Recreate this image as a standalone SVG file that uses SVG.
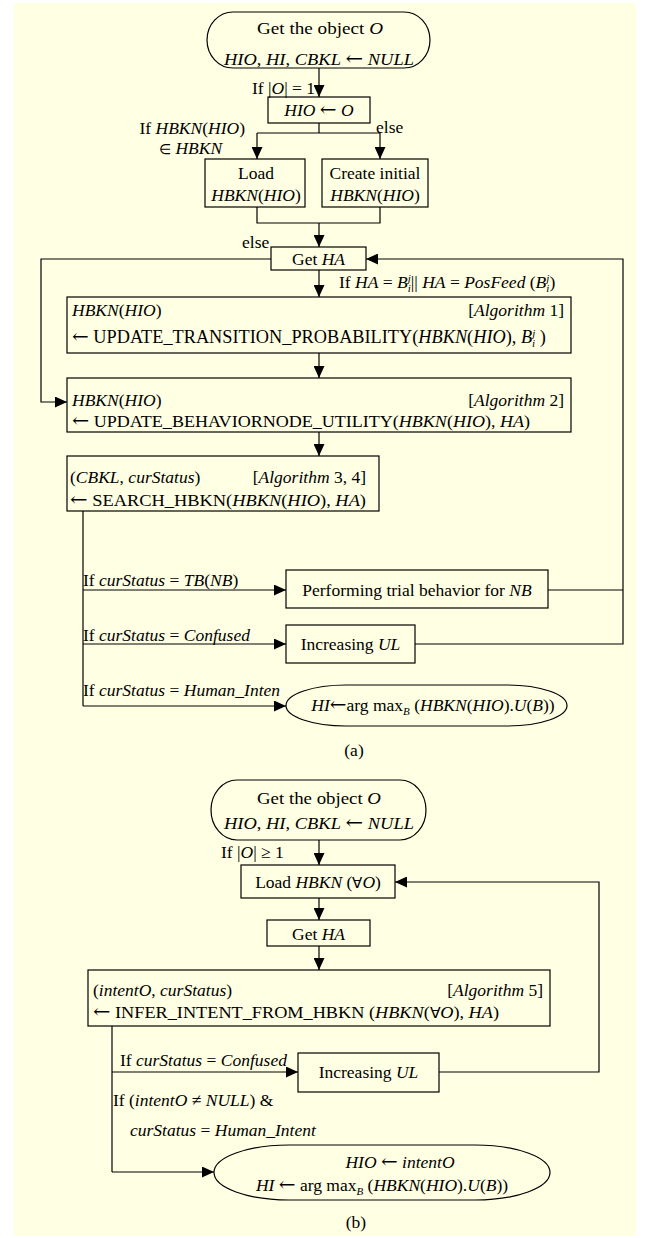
<svg xmlns="http://www.w3.org/2000/svg" width="649" height="1238" viewBox="0 0 649 1238">
<style>
.t{font-family:"Liberation Serif","Times New Roman",serif;font-size:17.5px;fill:#000}
.i{font-style:italic}
.s{font-size:11px}
.a{font-family:"DejaVu Serif","Liberation Serif",serif;font-size:20px;font-style:normal}
.el{font-size:14px}
.fa{font-size:15px}
.m{text-anchor:middle}
.e{text-anchor:end}
.bx{fill:none;stroke:#000;stroke-width:1.2}
.ln{fill:none;stroke:#000;stroke-width:1.2}
.ar{fill:none;stroke:#000;stroke-width:1.2;marker-end:url(#ah)}
</style>
<defs>
<marker id="ah" markerUnits="userSpaceOnUse" markerWidth="12" markerHeight="11" refX="12" refY="5.5" orient="auto"><path d="M0,0 L12,5.5 L0,11 z" fill="#000"/></marker>
</defs>
<rect x="0" y="0" width="649" height="1238" fill="#ffffff"/>
<rect x="14" y="3" width="622" height="1233" fill="#ffffe4"/>

<g id="connectors">
<path class="ar" d="M319,68 V97"/>
<path class="ln" d="M319,123 V133 M257,133 H380"/>
<path class="ar" d="M257,133 V159"/>
<path class="ar" d="M380,133 V159"/>
<path class="ln" d="M257,207 V223 H380 V207"/>
<path class="ar" d="M319,223 V247"/>
<path class="ar" d="M271,259 H41 V402 H67"/>
<path class="ln" d="M548,590 H623"/>
<path class="ar" d="M415,644 H623 V259 H366"/>
<path class="ar" d="M319,270 V297"/>
<path class="ar" d="M319,353 V378"/>
<path class="ar" d="M319,432 V456"/>
<path class="ln" d="M83,511 V706"/>
<path class="ar" d="M83,590 H286"/>
<path class="ar" d="M83,644 H286"/>
<path class="ar" d="M83,706 H286"/>

<path class="ar" d="M319,840 V865"/>
<path class="ar" d="M319,898 V920"/>
<path class="ar" d="M319,946 V970"/>
<path class="ln" d="M112,1026 V1172"/>
<path class="ar" d="M112,1072 H298"/>
<path class="ar" d="M112,1172 H214"/>
<path class="ar" d="M439,1072 H599 V882 H395"/>
</g>

<g id="labels">
<text class="t e" x="315" y="94">If |<tspan class="i">O</tspan>| = 1</text>
<text class="t e" x="245" y="134">If <tspan class="i">HBKN</tspan>(<tspan class="i">HIO</tspan>)</text>
<text class="t" x="159" y="154"><tspan class="el">∈</tspan> <tspan class="i">HBKN</tspan></text>
<text class="t" x="376" y="133">else</text>
<text class="t" x="242" y="248">else</text>
<text class="t" x="339" y="288">If <tspan class="i">HA</tspan> = <tspan class="i">B</tspan><tspan class="s i" dy="4">i</tspan><tspan class="s i" dx="-3" dy="-10">j</tspan><tspan dy="6">|| </tspan><tspan class="i">HA</tspan> = <tspan class="i">PosFeed</tspan> (<tspan class="i">B</tspan><tspan class="s i" dy="4">i</tspan><tspan class="s i" dx="-3" dy="-10">j</tspan><tspan dy="6">)</tspan></text>
<text class="t" x="83" y="586">If <tspan class="i">curStatus</tspan> = <tspan class="i">TB</tspan>(<tspan class="i">NB</tspan>)</text>
<text class="t" x="83" y="641">If <tspan class="i">curStatus</tspan> = <tspan class="i">Confused</tspan></text>
<text class="t" x="83" y="696">If <tspan class="i">curStatus</tspan> = <tspan class="i">Human_Inten</tspan></text>
<text class="t m" x="354" y="756">(a)</text>
<text class="t" x="221" y="858">If |<tspan class="i">O</tspan>| ≥ 1</text>
<text class="t" x="120" y="1066">If <tspan class="i">curStatus</tspan> = <tspan class="i">Confused</tspan></text>
<text class="t" x="113" y="1106">If (<tspan class="i">intentO</tspan> ≠ <tspan class="i">NULL</tspan>) &amp;</text>
<text class="t" x="130" y="1136"><tspan class="i">curStatus</tspan> = <tspan class="i">Human_Intent</tspan></text>
<text class="t m" x="356" y="1228">(b)</text>
</g>

<g id="start_a">
<rect class="bx" x="207" y="12" width="223" height="56" rx="26" ry="28"/>
<text class="t m" x="320" y="34" textLength="126" lengthAdjust="spacingAndGlyphs">Get the object <tspan class="i">O</tspan></text>
<text class="t m" x="319" y="65" textLength="190" lengthAdjust="spacingAndGlyphs"><tspan class="i">HIO</tspan>, <tspan class="i">HI</tspan>, <tspan class="i">CBKL</tspan> <tspan class="a">←</tspan> <tspan class="i">NULL</tspan></text>
</g>
<g id="hio_a">
<rect class="bx" x="268" y="97" width="102" height="26"/>
<text class="t m" x="319" y="116"><tspan class="i">HIO</tspan> <tspan class="a">←</tspan> <tspan class="i">O</tspan></text>
</g>
<g id="load_a">
<rect class="bx" x="205" y="159" width="100" height="48"/>
<text class="t m" x="256" y="179">Load</text>
<text class="t m" x="256" y="201"><tspan class="i">HBKN</tspan>(<tspan class="i">HIO</tspan>)</text>
</g>
<g id="create_a">
<rect class="bx" x="322" y="159" width="106" height="48"/>
<text class="t m" x="375" y="179">Create initial</text>
<text class="t m" x="375" y="201"><tspan class="i">HBKN</tspan>(<tspan class="i">HIO</tspan>)</text>
</g>
<g id="getha_a">
<rect class="bx" x="271" y="247" width="95" height="23"/>
<text class="t m" x="318.5" y="265">Get <tspan class="i">HA</tspan></text>
</g>
<g id="alg1">
<rect class="bx" x="67" y="297" width="504" height="56"/>
<text class="t" x="72" y="316"><tspan class="i">HBKN</tspan>(<tspan class="i">HIO</tspan>)</text>
<text class="t e" x="564" y="316">[<tspan class="i">Algorithm</tspan> 1]</text>
<text class="t" x="72" y="343" style="font-size:18.3px"><tspan class="a">←</tspan> UPDATE_TRANSITION_PROBABILITY(<tspan class="i">HBKN</tspan>(<tspan class="i">HIO</tspan>),  <tspan class="i">B</tspan><tspan class="s i" dy="4">i</tspan><tspan class="s i" dx="-3" dy="-10">j</tspan><tspan dy="6"> )</tspan></text>
</g>
<g id="alg2">
<rect class="bx" x="67" y="378" width="504" height="54"/>
<text class="t" x="72" y="406"><tspan class="i">HBKN</tspan>(<tspan class="i">HIO</tspan>)</text>
<text class="t e" x="564" y="406">[<tspan class="i">Algorithm</tspan> 2]</text>
<text class="t" x="72" y="427" textLength="458" lengthAdjust="spacingAndGlyphs"><tspan class="a">←</tspan> UPDATE_BEHAVIORNODE_UTILITY(<tspan class="i">HBKN</tspan>(<tspan class="i">HIO</tspan>), <tspan class="i">HA</tspan>)</text>
</g>
<g id="search">
<rect class="bx" x="67" y="456" width="312" height="55"/>
<text class="t" x="70" y="483">(<tspan class="i">CBKL</tspan>, <tspan class="i">curStatus</tspan>)</text>
<text class="t e" x="366" y="483">[<tspan class="i">Algorithm</tspan> 3, 4]</text>
<text class="t" x="70" y="506" textLength="296" lengthAdjust="spacingAndGlyphs"><tspan class="a">←</tspan> SEARCH_HBKN(<tspan class="i">HBKN</tspan>(<tspan class="i">HIO</tspan>), <tspan class="i">HA</tspan>)</text>
</g>
<g id="perform">
<rect class="bx" x="286" y="570" width="262" height="38"/>
<text class="t m" x="417" y="596">Performing trial behavior for <tspan class="i">NB</tspan></text>
</g>
<g id="incul_a">
<rect class="bx" x="286" y="625" width="129" height="38"/>
<text class="t m" x="350.5" y="650">Increasing <tspan class="i">UL</tspan></text>
</g>
<g id="end_a">
<rect class="bx" x="286" y="685" width="281" height="41" rx="60" ry="20.5"/>
<text class="t m" x="433" y="711"><tspan class="i">HI</tspan><tspan class="a">←</tspan>arg max<tspan class="s i" dy="4">B</tspan><tspan dy="-4"> (</tspan><tspan class="i">HBKN</tspan>(<tspan class="i">HIO</tspan>).<tspan class="i">U</tspan>(<tspan class="i">B</tspan>))</text>
</g>

<g id="start_b">
<rect class="bx" x="211" y="780" width="215" height="60" rx="26" ry="30"/>
<text class="t m" x="319" y="804" textLength="124" lengthAdjust="spacingAndGlyphs">Get the object <tspan class="i">O</tspan></text>
<text class="t m" x="319" y="829" textLength="190" lengthAdjust="spacingAndGlyphs"><tspan class="i">HIO</tspan>, <tspan class="i">HI</tspan>, <tspan class="i">CBKL</tspan> <tspan class="a">←</tspan> <tspan class="i">NULL</tspan></text>
</g>
<g id="load_b">
<rect class="bx" x="241" y="865" width="154" height="33"/>
<text class="t m" x="318" y="888">Load <tspan class="i">HBKN</tspan> (<tspan class="fa">∀</tspan><tspan class="i">O</tspan>)</text>
</g>
<g id="getha_b">
<rect class="bx" x="267" y="920" width="103" height="26"/>
<text class="t m" x="318.5" y="940">Get <tspan class="i">HA</tspan></text>
</g>
<g id="alg5">
<rect class="bx" x="88" y="970" width="462" height="56"/>
<text class="t" x="93" y="996">(<tspan class="i">intentO</tspan>, <tspan class="i">curStatus</tspan>)</text>
<text class="t e" x="543" y="996">[<tspan class="i">Algorithm</tspan> 5]</text>
<text class="t" x="93" y="1018" textLength="406" lengthAdjust="spacingAndGlyphs"><tspan class="a">←</tspan> INFER_INTENT_FROM_HBKN (<tspan class="i">HBKN</tspan>(<tspan class="fa">∀</tspan><tspan class="i">O</tspan>), <tspan class="i">HA</tspan>)</text>
</g>
<g id="incul_b">
<rect class="bx" x="298" y="1053" width="141" height="39"/>
<text class="t m" x="368.5" y="1078">Increasing <tspan class="i">UL</tspan></text>
</g>
<g id="end_b">
<rect class="bx" x="214" y="1145" width="336" height="55" rx="75" ry="27.5"/>
<text class="t m" x="400" y="1168"><tspan class="i">HIO</tspan> <tspan class="a">←</tspan> <tspan class="i">intentO</tspan></text>
<text class="t m" x="382" y="1191"><tspan class="i">HI</tspan> <tspan class="a">←</tspan> arg max<tspan class="s i" dy="4">B</tspan><tspan dy="-4"> (</tspan><tspan class="i">HBKN</tspan>(<tspan class="i">HIO</tspan>).<tspan class="i">U</tspan>(<tspan class="i">B</tspan>))</text>
</g>
</svg>
